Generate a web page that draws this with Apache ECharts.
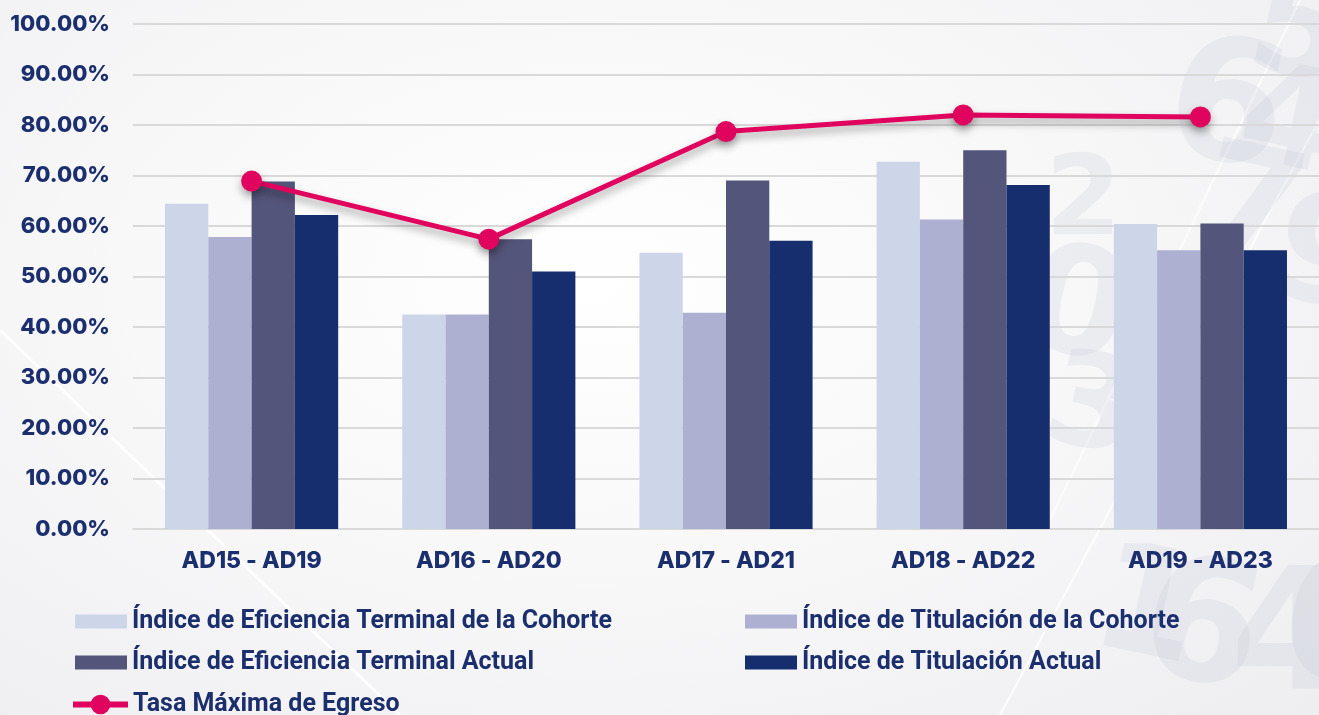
<!DOCTYPE html>
<html>
<head>
<meta charset="utf-8">
<script src="https://cdn.jsdelivr.net/npm/echarts@6/dist/echarts.min.js"></script>
<style>
html,body{margin:0;padding:0;width:1319px;height:715px;overflow:hidden;}
body{background:radial-gradient(ellipse at 45% 40%, #ffffff 0%, #f8f8f9 45%, #eeeef1 100%);}
#c{width:1319px;height:715px;}
</style>
</head>
<body>
<div id="c"></div>
<script>
const categories = ['AD15 - AD19', 'AD16 - AD20', 'AD17 - AD21', 'AD18 - AD22', 'AD19 - AD23'];
const seriesNames = [
  'Índice de Eficiencia Terminal de la Cohorte',
  'Índice de Titulación de la Cohorte',
  'Índice de Eficiencia Terminal Actual',
  'Índice de Titulación Actual',
  'Tasa Máxima de Egreso'
];
const eficienciaCohorte = [64.4, 42.5, 54.7, 72.7, 60.4];
const titulacionCohorte = [57.8, 42.5, 42.8, 61.3, 55.2];
const eficienciaActual = [68.8, 57.4, 69.0, 75.0, 60.5];
const titulacionActual = [62.2, 51.0, 57.1, 68.1, 55.2];
const tasaMaxima = [68.9, 57.4, 78.7, 82.0, 81.6];
const yTicks = {min: 0, max: 100, interval: 10};

const navy = '#1b2e6d';
const lineColor = '#e0045e';
const barColors = ['#cdd6e9', '#aeb0d1', '#54557a', '#172e6e'];
const barValues = [eficienciaCohorte, titulacionCohorte, eficienciaActual, titulacionActual];

const chart = echarts.init(document.getElementById('c'), null, {renderer: 'canvas'});

const decoDigits = [
  {t: '6', x: 1185, y: 20, s: 170, r: -12},
  {t: '4', x: 1255, y: 50, s: 140, r: -12},
  {t: '5', x: 1265, y: -40, s: 140, r: -12},
  {t: '2', x: 1045, y: 150, s: 110, r: 0},
  {t: '7', x: 1215, y: 130, s: 150, r: -12},
  {t: '9', x: 1290, y: 180, s: 150, r: -12},
  {t: '0', x: 1040, y: 230, s: 150, r: -12},
  {t: '3', x: 1060, y: 340, s: 130, r: -12},
  {t: '2', x: 1200, y: 330, s: 150, r: -12},
  {t: '1', x: 1110, y: 530, s: 150, r: -12},
  {t: '6', x: 1160, y: 540, s: 170, r: -12},
  {t: '4', x: 1230, y: 560, s: 170, r: 0},
  {t: '0', x: 1300, y: 540, s: 170, r: -12}
];
const graphics = decoDigits.map(d => ({
  type: 'text', x: d.x, y: d.y, rotation: d.r * Math.PI / 180, z: -10, silent: true,
  style: {text: d.t, font: 'bold ' + d.s + 'px "DejaVu Sans"', fill: 'rgba(150,152,185,0.11)'}
}));
graphics.unshift(
  {type: 'line', z: -10, silent: true, shape: {x1: 0, y1: 330, x2: 400, y2: 715}, style: {stroke: 'rgba(255,255,255,0.9)', lineWidth: 3}},
  {type: 'line', z: -10, silent: true, shape: {x1: 1000, y1: 715, x2: 1319, y2: 120}, style: {stroke: 'rgba(255,255,255,0.8)', lineWidth: 2}},
  {type: 'line', z: -10, silent: true, shape: {x1: 1050, y1: 520, x2: 1300, y2: 0}, style: {stroke: 'rgba(255,255,255,0.7)', lineWidth: 2}}
);

const series = barValues.map((vals, i) => ({
  name: seriesNames[i],
  type: 'bar',
  data: vals,
  barGap: '0%',
  barCategoryGap: '27%',
  itemStyle: {color: barColors[i]},
  z: 2
}));
series.push({
  name: seriesNames[4],
  type: 'line',
  data: tasaMaxima,
  symbol: 'circle',
  symbolSize: 21,
  z: 5,
  lineStyle: {color: lineColor, width: 5, shadowColor: 'rgba(0,0,0,0.35)', shadowBlur: 8, shadowOffsetY: 5},
  itemStyle: {color: lineColor, shadowColor: 'rgba(0,0,0,0.35)', shadowBlur: 8, shadowOffsetY: 5}
});

const legendText = {color: navy, fontFamily: 'Roboto', fontWeight: 'bold', fontSize: 25, lineHeight: 27};
const lineIcon = 'path://M0,7 L56,7 L56,13 L0,13 Z M28,0 A10,10 0 1,1 27.99,0 Z';

chart.setOption({
  animation: false,
  backgroundColor: 'transparent',
  graphic: graphics,
  grid: {left: 133, right: -4, top: 24, bottom: 186, containLabel: false},
  legend: [
    {
      left: 75, top: 608, orient: 'vertical', padding: 0, height: 80,
      itemWidth: 52, itemHeight: 14, itemGap: 14, icon: 'rect',
      data: [seriesNames[0], seriesNames[2]], textStyle: legendText
    },
    {
      left: 745, top: 608, orient: 'vertical', padding: 0, height: 80,
      itemWidth: 52, itemHeight: 14, itemGap: 14, icon: 'rect',
      data: [seriesNames[1], seriesNames[3]], textStyle: legendText
    },
    {
      left: 73, top: 691, orient: 'vertical', padding: 0,
      itemWidth: 55, itemHeight: 20,
      data: [{name: seriesNames[4], icon: lineIcon, itemStyle: {color: lineColor}}],
      textStyle: legendText
    }
  ],
  xAxis: {
    type: 'category',
    data: categories,
    axisLine: {show: true, lineStyle: {color: '#d9d9d9', width: 2}},
    axisTick: {show: false},
    axisLabel: {color: navy, fontFamily: 'Inter', fontWeight: 800, fontSize: 23, margin: 21}
  },
  yAxis: {
    type: 'value',
    min: yTicks.min, max: yTicks.max, interval: yTicks.interval,
    axisLine: {show: false},
    axisTick: {show: false},
    splitLine: {lineStyle: {color: '#d9d9d9', width: 2}},
    axisLabel: {color: navy, fontFamily: 'Inter', fontWeight: 800, fontSize: 22, margin: 23,
      formatter: v => v.toFixed(2) + '%'}
  },
  series: series
});
</script>
</body>
</html>
